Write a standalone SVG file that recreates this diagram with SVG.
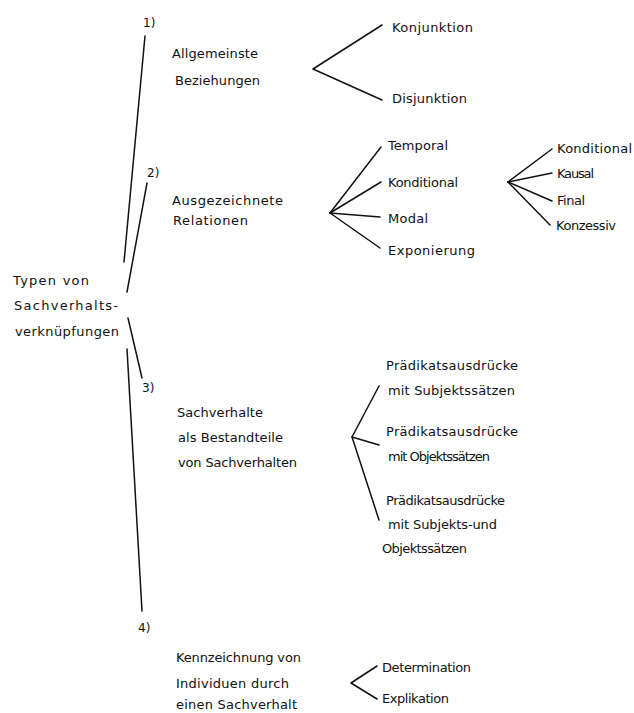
<svg xmlns="http://www.w3.org/2000/svg" width="634" height="713" viewBox="0 0 634 713">
<style>
text{font-family:"DejaVu Sans","Liberation Sans",sans-serif;font-size:13px;fill:#111}
.n{font-size:12px}
line,polyline{stroke:#111;stroke-width:1.5;fill:none;stroke-linecap:round;stroke-linejoin:round}
</style>
<rect width="634" height="713" fill="#fff"/>
<g id="connectors">
<line x1="145" y1="36" x2="124" y2="262"/>
<line x1="147" y1="183" x2="127" y2="292"/>
<line x1="128" y1="318" x2="142" y2="378"/>
<line x1="127" y1="349" x2="142" y2="611"/>
<polyline points="382,25 313,69 382,100"/>
<line x1="330" y1="213" x2="381" y2="147"/>
<line x1="330" y1="213" x2="381" y2="182"/>
<line x1="330" y1="213" x2="380" y2="217"/>
<line x1="330" y1="213" x2="380" y2="248"/>
<line x1="508" y1="182" x2="552" y2="149"/>
<line x1="508" y1="182" x2="552" y2="173"/>
<line x1="508" y1="182" x2="552" y2="201"/>
<line x1="508" y1="182" x2="550" y2="225"/>
<polyline points="379,386 352,437 379,445"/>
<line x1="352" y1="437" x2="379" y2="520"/>
<polyline points="377,666 351,683 377,699"/>
</g>
<g id="root"><text x="13" y="285" textLength="76">Typen von</text><text x="14" y="310" textLength="104">Sachverhalts-</text><text x="15" y="336" textLength="104">verknüpfungen</text></g>
<g id="n1"><text class="n" x="143" y="27">1)</text><text x="172" y="58" textLength="86">Allgemeinste</text><text x="175" y="85" textLength="85">Beziehungen</text></g>
<g id="n2"><text class="n" x="147" y="177">2)</text><text x="172" y="205" textLength="111">Ausgezeichnete</text><text x="173" y="225" textLength="75">Relationen</text></g>
<g id="n3"><text class="n" x="142" y="392">3)</text><text x="177" y="417" textLength="86">Sachverhalte</text><text x="178" y="442" textLength="105">als Bestandteile</text><text x="178" y="467" textLength="119">von Sachverhalten</text></g>
<g id="n4"><text class="n" x="138" y="632">4)</text><text x="176" y="662" textLength="125">Kennzeichnung von</text><text x="176" y="688" textLength="113">Individuen durch</text><text x="176" y="709" textLength="121">einen Sachverhalt</text></g>
<g id="konjunktion"><text x="392" y="32" textLength="81">Konjunktion</text></g>
<g id="disjunktion"><text x="392" y="103" textLength="75">Disjunktion</text></g>
<g id="temporal"><text x="388" y="150" textLength="60">Temporal</text></g>
<g id="konditional"><text x="388" y="187" textLength="70">Konditional</text></g>
<g id="modal"><text x="388" y="223" textLength="40">Modal</text></g>
<g id="exponierung"><text x="388" y="255" textLength="87">Exponierung</text></g>
<g id="konditional2"><text x="557" y="153" textLength="75">Konditional</text></g>
<g id="kausal"><text x="557" y="178" textLength="37">Kausal</text></g>
<g id="final"><text x="557" y="205" textLength="28">Final</text></g>
<g id="konzessiv"><text x="556" y="230" textLength="60">Konzessiv</text></g>
<g id="praed1"><text x="386" y="370" textLength="132">Prädikatsausdrücke</text><text x="388" y="395" textLength="127">mit Subjektssätzen</text></g>
<g id="praed2"><text x="386" y="436" textLength="132">Prädikatsausdrücke</text><text x="388" y="461" textLength="102">mit Objektssätzen</text></g>
<g id="praed3"><text x="386" y="505" textLength="119">Prädikatsausdrücke</text><text x="388" y="529" textLength="109">mit Subjekts-und</text><text x="382" y="553" textLength="85">Objektssätzen</text></g>
<g id="determination"><text x="382" y="672" textLength="89">Determination</text></g>
<g id="explikation"><text x="382" y="703" textLength="67">Explikation</text></g>
</svg>
